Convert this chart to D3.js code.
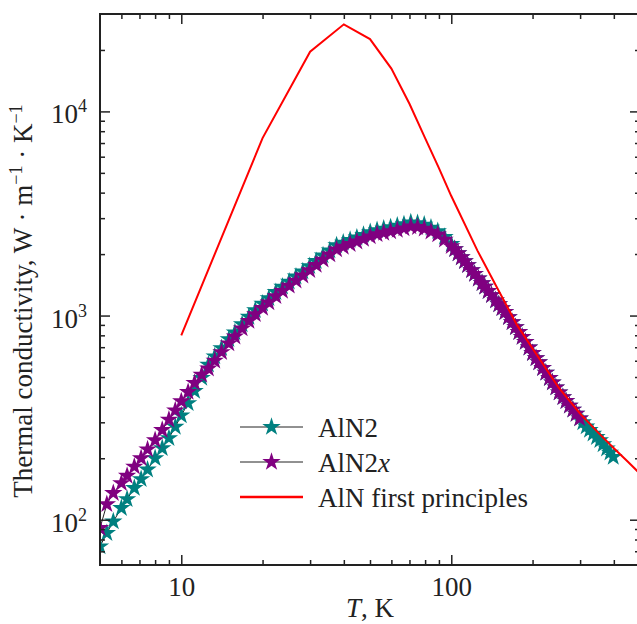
<!DOCTYPE html>
<html><head><meta charset="utf-8">
<script src="https://cdn.jsdelivr.net/npm/d3@7"></script>
<style>
body{margin:0;background:#fff}
svg{display:block}
</style>
</head><body>
<svg id="c" width="637" height="624"></svg>
<script>
// ---------- data ----------
const tempAlN2 = [5,5.3,5.6,6,6.3,6.7,7.1,7.5,8,8.5,9,9.5,10,10.6,11.2,11.9,12.6,13.3,14.1,15,15.8,16.8,17.8,18.8,20,21.1,22.4,23.7,25.1,26.6,28.2,29.9,31.6,33.5,35.5,37.6,39.8,42.2,44.7,47.3,50.1,53.1,56.2,59.6,63.1,66.8,70.8,75,79.4,84.1,89.1,94.4,100,
  103,106,109,112,115,119,122,126,130,133,137,141,146,150,154,158,163,168,173,178,183,188,194,200,206,211,218,224,231,237,244,251,259,266,274,282,290,299,307,316,325,335,345,355,365,376,387,398];
const kAlN2 = [74,86,98,114,126,143,158,176,200,224,251,285,324,372,427,495,575,631,692,766,826,906,986,1062,1143,1216,1303,1384,1466,1552,1644,1746,1849,1968,2084,2208,2275,2344,2410,2483,2559,2618,2661,2704,2754,2799,2858,2831,2786,2692,2588,2427,2239,
  2113,2018,1928,1845,1766,1667,1600,1517,1439,1384,1318,1259,1186,1135,1086,1040,982,927,877,830,785,743,697,655,618,590,553,525,494,470,444,420,398,381,362,346,330,313,300,286,275,264,254,245,234,223,213,203];

const tempAlN2x = [5,5.3,5.6,6,6.3,6.7,7.1,7.5,8,8.5,9,9.5,10,10.6,11.2,11.9,12.6,13.3,14.1,15,15.8,16.8,17.8,18.8,20,21.1,22.4,23.7,25.1,26.6,28.2,29.9,31.6,33.5,35.5,37.6,39.8,42.2,44.7,47.3,50.1,53.1,56.2,59.6,63.1,66.8,70.8,75,79.4,84.1,89.1,94.4,100,
  103,106,109,112,115,119,122,126,130,133,137,141,146,150,154,158,163,168,173,178,183,188,194,200,206,211,218,224,231,237,244,251,259,266,274,282,290,299];
const kAlN2x = [91,119,135,151,164,182,200,221,245,275,309,343,380,422,468,513,550,601,662,730,789,864,941,1015,1090,1160,1243,1321,1400,1483,1570,1669,1768,1879,1991,2109,2171,2239,2303,2371,2442,2503,2543,2585,2627,2673,2729,2713,2661,2576,2495,2355,2188,
  2113,2018,1928,1845,1766,1667,1600,1517,1439,1384,1318,1259,1186,1135,1086,1040,982,927,877,830,785,743,697,655,618,590,553,525,494,470,444,420,398,381,362,346,330,313];

const tempFP = [10,20,30,40,50,60,70,80,90,100,125,150,175,200,250,300,350,400,450,500];
const kFP = [800,7400,19600,26700,22600,16200,10900,7400,5270,3850,2080,1320,900,690,443,331,267,224,193,168];

const xMajorTicks = [10,100];
const xMajorLabels = ["10","100"];
const xMinorTicks = [6,7,8,9,20,30,40,50,60,70,80,90,200,300,400];
const yMajorTicks = [100,1000,10000];
const yMajorExponents = ["2","3","4"];
const yMinorTicks = [70,80,90,200,300,400,500,600,700,800,900,2000,3000,4000,5000,6000,7000,8000,9000,20000];

const seriesNames = ["AlN2","AlN2x","AlN first principles"];
const seriesColors = ["#008080","#800080","#ff0000"];

// ---------- layout ----------
const FONT = "'Liberation Serif', 'Tinos', 'Times New Roman', 'DejaVu Serif', serif";
const L = 100, R = 640, T = 14, B = 565;
const x = d3.scaleLog().domain([5,500]).range([L,R]);
const y = d3.scaleLog().domain([60,30000]).range([B,T]);
const ink = "#222";

const svg = d3.select("#c");
svg.append("defs").append("clipPath").attr("id","clip")
  .append("rect").attr("x",L).attr("y",T).attr("width",R-L).attr("height",B-T);

const plot = svg.append("g").attr("clip-path","url(#clip)");
const line = d3.line().x(d=>x(d.t)).y(d=>y(d.k));
const star = d3.symbol(d3.symbolStar, 105);

function drawStars(temps, ks, color){
  const data = temps.map((t,i)=>({t, k:ks[i]}));
  plot.append("path").datum(data).attr("d",line)
    .attr("fill","none").attr("stroke",ink).attr("stroke-width",1);
  plot.append("g").selectAll("path").data(data).join("path")
    .attr("transform",d=>`translate(${x(d.t)},${y(d.k)})`)
    .attr("d",star).attr("fill",color);
}
drawStars(tempAlN2, kAlN2, seriesColors[0]);
drawStars(tempAlN2x, kAlN2x, seriesColors[1]);
plot.append("path").datum(tempFP.map((t,i)=>({t,k:kFP[i]}))).attr("d",line)
  .attr("fill","none").attr("stroke",seriesColors[2]).attr("stroke-width",2);

// ---------- axes ----------
function addAxis(gen, tr){
  const g = svg.append("g").attr("transform",tr).call(gen);
  g.select(".domain").remove();
  g.attr("color",ink).selectAll("line").attr("stroke-width",1.5);
  return g;
}
const bx = addAxis(d3.axisBottom(x).tickValues(xMajorTicks).tickSize(-10).tickPadding(12)
  .tickFormat((d,i)=>xMajorLabels[i]), `translate(0,${B})`);
bx.attr("font-family",FONT).attr("font-size",27);
bx.selectAll("text").attr("fill",ink).style("font-family",FONT).style("font-size","27px");
addAxis(d3.axisBottom(x).tickValues(xMinorTicks).tickSize(-5).tickFormat(""), `translate(0,${B})`);
addAxis(d3.axisTop(x).tickValues(xMajorTicks).tickSize(-10).tickFormat(""), `translate(0,${T})`);
addAxis(d3.axisTop(x).tickValues(xMinorTicks).tickSize(-5).tickFormat(""), `translate(0,${T})`);
addAxis(d3.axisLeft(y).tickValues(yMajorTicks).tickSize(-10).tickFormat(""), `translate(${L},0)`);
addAxis(d3.axisLeft(y).tickValues(yMinorTicks).tickSize(-5).tickFormat(""), `translate(${L},0)`);
addAxis(d3.axisRight(y).tickValues(yMajorTicks).tickSize(-10).tickFormat(""), `translate(${R},0)`);
addAxis(d3.axisRight(y).tickValues(yMinorTicks).tickSize(-5).tickFormat(""), `translate(${R},0)`);

svg.append("rect").attr("x",L).attr("y",T).attr("width",R-L).attr("height",B-T)
  .attr("fill","none").attr("stroke",ink).attr("stroke-width",2);

function txt(sel){ return sel.attr("fill",ink).style("font-family",FONT).style("font-size","27px"); }

// y tick labels with superscripts
yMajorTicks.forEach((v,i)=>{
  const t = txt(svg.append("text")).attr("x",87).attr("y",y(v)+12).attr("text-anchor","end");
  t.append("tspan").text("10");
  t.append("tspan").attr("dy",-11).style("font-size","18px").text(yMajorExponents[i]);
});

// axis titles
const yt = txt(svg.append("text")).attr("transform","translate(32,301) rotate(-90)")
  .attr("text-anchor","middle");
yt.append("tspan").text("Thermal conductivity, W · m");
yt.append("tspan").attr("dy",-10).style("font-size","18px").text("−1");
yt.append("tspan").attr("dy",10).text(" · K");
yt.append("tspan").attr("dy",-10).style("font-size","18px").text("−1");

const xt = txt(svg.append("text")).attr("x",370).attr("y",617).attr("text-anchor","middle");
xt.append("tspan").style("font-style","italic").text("T");
xt.append("tspan").text(", K");

// ---------- legend ----------
const lg = svg.append("g");
const ly0 = 427, ldy = 35;
seriesNames.forEach((name,i)=>{
  const yy = ly0 + i*ldy;
  if(i<2){
    lg.append("line").attr("x1",240).attr("x2",303).attr("y1",yy).attr("y2",yy)
      .attr("stroke",ink).attr("stroke-width",1);
    lg.append("path").attr("transform",`translate(271.5,${yy})`).attr("d",star).attr("fill",seriesColors[i]);
  } else {
    lg.append("line").attr("x1",240).attr("x2",303).attr("y1",yy).attr("y2",yy)
      .attr("stroke",seriesColors[i]).attr("stroke-width",2.5);
  }
  const t = txt(lg.append("text")).attr("x",318).attr("y",yy+10);
  if(name==="AlN2x"){
    t.append("tspan").text("AlN2");
    t.append("tspan").style("font-style","italic").text("x");
  } else t.text(name);
});
</script>
</body></html>
